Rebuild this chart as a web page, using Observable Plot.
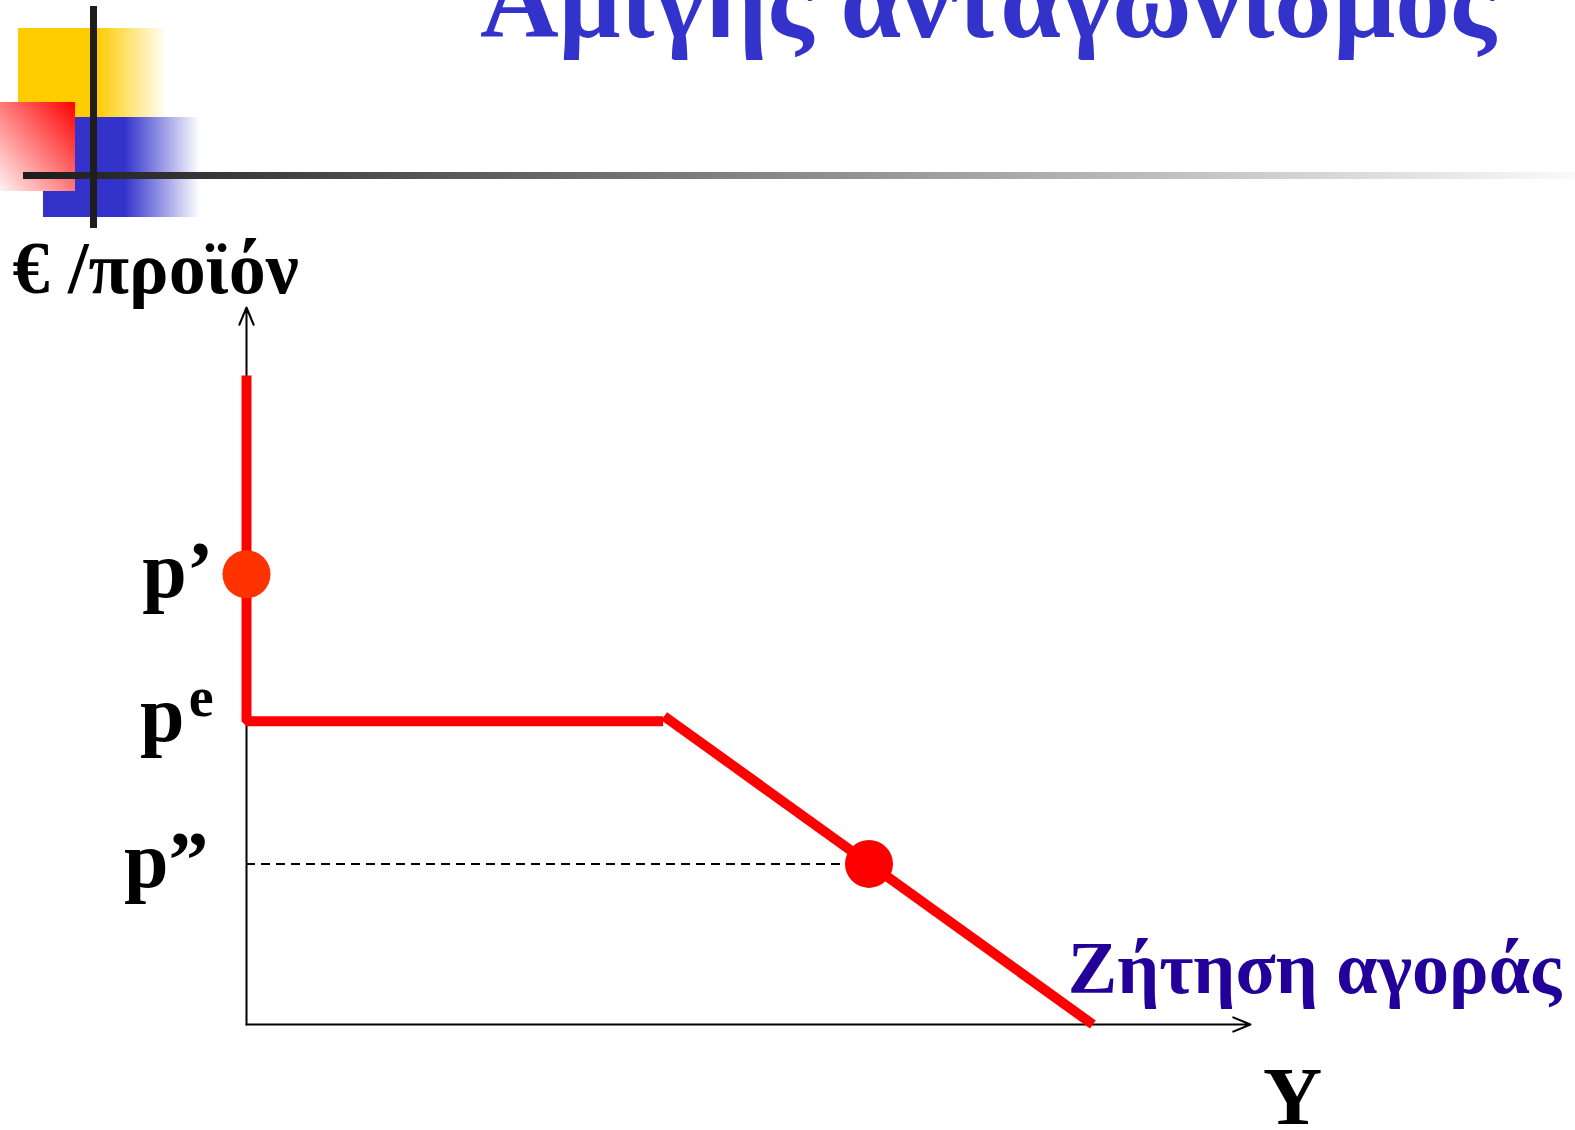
<!DOCTYPE html>
<html lang="el">
<head>
<meta charset="utf-8">
<title>Αμιγής ανταγωνισμός</title>
<script src="https://cdn.jsdelivr.net/npm/d3@7"></script>
<script src="https://cdn.jsdelivr.net/npm/@observablehq/plot@0.6"></script>
<style>
  html, body { margin: 0; padding: 0; background: #fff; overflow: hidden; }
  #slide { position: relative; width: 1575px; height: 1130px; overflow: hidden; }
  #slide svg { position: absolute; left: 0; top: 0; }
</style>
</head>
<body>
<div id="slide"></div>
<script>
// Quantity (Y) runs 0–100 along the horizontal axis, price per unit 0–100 up the vertical one.
const axisMax = 100;
const axisFromX = [0, 0];
const axisFromY = [0, 0];
const axisToX = [0, axisMax];
const axisToY = [axisMax, 0];

// Demand facing the firm: vertical at Y = 0 down to pᵉ, then flat until the kink
const flatX = [0, 0, 41.5];
const flatY = [90.5, 42.3, 42.3];
// Market demand beyond the kink
const slopeX = [41.6, 84.3];
const slopeY = [43.0, 0];

// Price levels named on the vertical axis
const priceNames = ["p’", "p", "p”"];
const priceValues = [62.8, 42.3, 22.4];
const priceSuperscripts = ["", "e", ""];

// Highlighted points: p’ on the vertical segment, p” on market demand
const pointX = [0, 62];
const pointY = [62.8, 22.4];

// Text
const slideTitle = "Αμιγής ανταγωνισμός";
const yAxisTitle = "€ /προϊόν";
const xAxisTitle = "Y";
const demandName = "Ζήτηση αγοράς";

const serif = "'Liberation Serif', 'Times New Roman', Times, serif";
const idx = (arr) => arr.map((_, i) => i);

const slide = document.getElementById("slide");

// ---- slide template: coloured squares, crossing bars and the title ----
const deco = d3.select(slide).append("svg")
  .attr("width", 1575).attr("height", 1130);
const defs = deco.append("defs");

function fadeRight(id, color, solidUntil) {
  const g = defs.append("linearGradient").attr("id", id)
    .attr("x1", 0).attr("y1", 0).attr("x2", 1).attr("y2", 0);
  g.append("stop").attr("offset", 0).attr("stop-color", color).attr("stop-opacity", 1);
  g.append("stop").attr("offset", solidUntil).attr("stop-color", color).attr("stop-opacity", 1);
  g.append("stop").attr("offset", 1).attr("stop-color", color).attr("stop-opacity", 0);
}
fadeRight("fadeYellow", "#ffcc00", 0.53);
fadeRight("fadeBlue", "#3333cc", 0.52);

const redGrad = defs.append("linearGradient").attr("id", "redCorner")
  .attr("x1", 1).attr("y1", 0).attr("x2", 0).attr("y2", 1);
redGrad.append("stop").attr("offset", 0).attr("stop-color", "#ff0000");
redGrad.append("stop").attr("offset", 1).attr("stop-color", "#fff3f3");

const barGrad = defs.append("linearGradient").attr("id", "barFade")
  .attr("x1", 0).attr("y1", 0).attr("x2", 1).attr("y2", 0);
barGrad.append("stop").attr("offset", 0).attr("stop-color", "#1c1c1c");
barGrad.append("stop").attr("offset", 1).attr("stop-color", "#fafafa");

deco.append("rect").attr("x", 18).attr("y", 28).attr("width", 149).attr("height", 89).attr("fill", "url(#fadeYellow)");
deco.append("rect").attr("x", 43).attr("y", 117).attr("width", 157).attr("height", 100).attr("fill", "url(#fadeBlue)");
deco.append("rect").attr("x", 0).attr("y", 102).attr("width", 75).attr("height", 89).attr("fill", "url(#redCorner)");
deco.append("rect").attr("x", 23).attr("y", 172).attr("width", 1552).attr("height", 7).attr("fill", "url(#barFade)");
deco.append("rect").attr("x", 90).attr("y", 6).attr("width", 7).attr("height", 222).attr("fill", "#1e1e1e");

// The slide title sits high, its upper part running off the top of the slide
deco.append("text")
  .attr("x", 480).attr("y", 37)
  .attr("font-family", serif).attr("font-weight", "bold").attr("font-size", 109)
  .attr("fill", "#3333cc")
  .text(slideTitle);

// ---- the diagram ----
const labelFont = {fontFamily: serif, fontWeight: "bold", fill: "black", lineAnchor: "bottom"};

const chart = Plot.plot({
  width: 1575,
  height: 1130,
  margin: 0,
  style: {background: "transparent", overflow: "visible"},
  x: {domain: [0, axisMax], range: [246, 1250], axis: null},
  y: {domain: [0, axisMax], range: [1024, 307], axis: null},
  marks: [
    // axes with arrow heads
    Plot.arrow(idx(axisFromX), {
      x1: (i) => axisFromX[i], y1: (i) => axisFromY[i],
      x2: (i) => axisToX[i], y2: (i) => axisToY[i],
      stroke: "black", strokeWidth: 2, headLength: 14, headAngle: 45
    }),
    // p” read across from market demand
    Plot.ruleY([priceValues[2]], {x1: 0, x2: pointX[1], stroke: "black", strokeWidth: 2, strokeDasharray: "9,6"}),
    // demand curves
    Plot.line(idx(flatX), {
      x: (i) => flatX[i], y: (i) => flatY[i],
      stroke: "#ff0000", strokeWidth: 10, strokeLinejoin: "miter", strokeLinecap: "butt"
    }),
    Plot.line(idx(slopeX), {
      x: (i) => slopeX[i], y: (i) => slopeY[i],
      stroke: "#ff0000", strokeWidth: 10, strokeLinecap: "butt"
    }),
    // highlighted prices
    Plot.dot([0], {x: pointX[0], y: pointY[0], r: 24, fill: "#ff3300", stroke: null}),
    Plot.dot([1], {x: pointX[1], y: pointY[1], r: 24, fill: "#ff0000", stroke: null}),
    // price labels
    Plot.text([priceNames[0]], {x: 0, y: priceValues[0], text: (d) => d, textAnchor: "end", dx: -33, dy: 23, fontSize: 80, ...labelFont}),
    Plot.text([priceNames[1]], {x: 0, y: priceValues[1], text: (d) => d, textAnchor: "end", dx: -62, dy: 20, fontSize: 80, ...labelFont}),
    Plot.text([priceSuperscripts[1]], {x: 0, y: priceValues[1], text: (d) => d, textAnchor: "end", dx: -33, dy: -5, fontSize: 56, ...labelFont}),
    Plot.text([priceNames[2]], {x: 0, y: priceValues[2], text: (d) => d, textAnchor: "end", dx: -38, dy: 23, fontSize: 80, ...labelFont}),
    // axis titles
    Plot.text([yAxisTitle], {x: 0, y: axisMax, text: (d) => d, textAnchor: "start", dx: -234, dy: -15, fontSize: 74, ...labelFont}),
    Plot.text([xAxisTitle], {x: axisMax, y: 0, text: (d) => d, textAnchor: "middle", dx: 42, dy: 99, fontSize: 82, ...labelFont}),
    Plot.text([demandName], {x: slopeX[1], y: slopeY[1], text: (d) => d, textAnchor: "start", dx: -25, dy: -32, fontSize: 74, ...labelFont, fill: "#220099"})
  ]
});
slide.appendChild(chart);
</script>
</body>
</html>
